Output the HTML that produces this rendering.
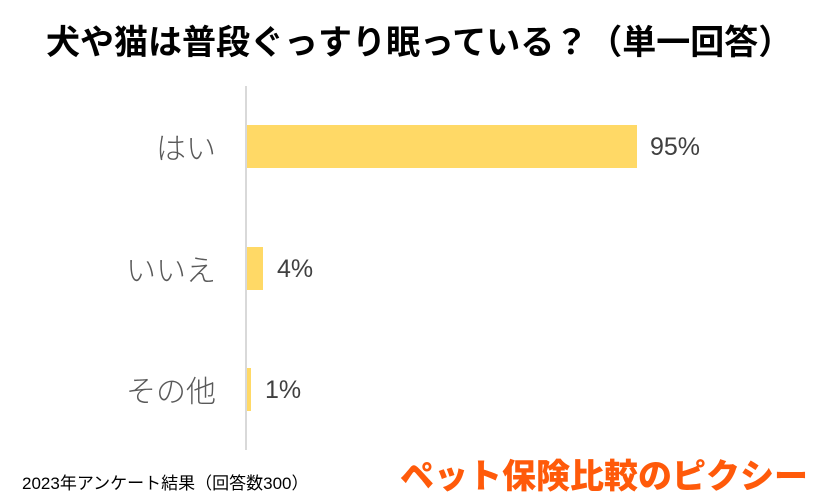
<!DOCTYPE html>
<html>
<head>
<meta charset="utf-8">
<style>
  html, body { margin:0; padding:0; }
  body { width:837px; height:503px; background:#ffffff; position:relative; overflow:hidden;
         font-family:"Liberation Sans","Noto Sans CJK JP",sans-serif; }
  .abs { position:absolute; white-space:nowrap; }
  .title { left:46px; top:18px; height:44px; line-height:44px; font-size:34px; font-weight:bold; color:#000;
           font-family:"Noto Sans CJK JP",sans-serif; letter-spacing:0px; }
  .axis { left:245px; top:86px; width:2px; height:364px; background:#d9d9d9; }
  .bar { background:#FFD966; }
  .cat { right:621px; font-size:30px; color:#595959; height:40px; line-height:40px; text-align:right;
         font-family:"Noto Sans CJK JP",sans-serif; font-weight:300; }
  .val { font-size:25px; color:#404040; height:40px; line-height:40px; }
  .foot { left:22px; top:472px; font-size:17px; color:#000; height:24px; line-height:24px;
          font-family:"Liberation Sans","Noto Sans CJK JP",sans-serif; }
  .logo { left:400px; top:454px; font-size:34px; font-weight:900; color:#FF5A0A; height:40px; line-height:40px;
          font-family:"Noto Sans CJK JP",sans-serif; letter-spacing:0px; }
</style>
</head>
<body>
  <div class="abs title">犬や猫は普段ぐっすり眠っている？（単一回答）</div>

  <div class="abs axis"></div>

  <div class="abs bar" style="left:247px; top:125px; width:390px; height:43px;"></div>
  <div class="abs bar" style="left:247px; top:247px; width:16px; height:43px;"></div>
  <div class="abs bar" style="left:247px; top:368px; width:4px; height:43px;"></div>

  <div class="abs cat" style="top:126px;">はい</div>
  <div class="abs cat" style="top:248px;">いいえ</div>
  <div class="abs cat" style="top:369px;">その他</div>

  <div class="abs val" style="left:650px; top:127px;">95%</div>
  <div class="abs val" style="left:277px; top:249px;">4%</div>
  <div class="abs val" style="left:265px; top:370px;">1%</div>

  <div class="abs foot">2023年アンケート結果（回答数300）</div>

  <div class="abs logo">ペット保険比較のピクシー</div>
</body>
</html>
